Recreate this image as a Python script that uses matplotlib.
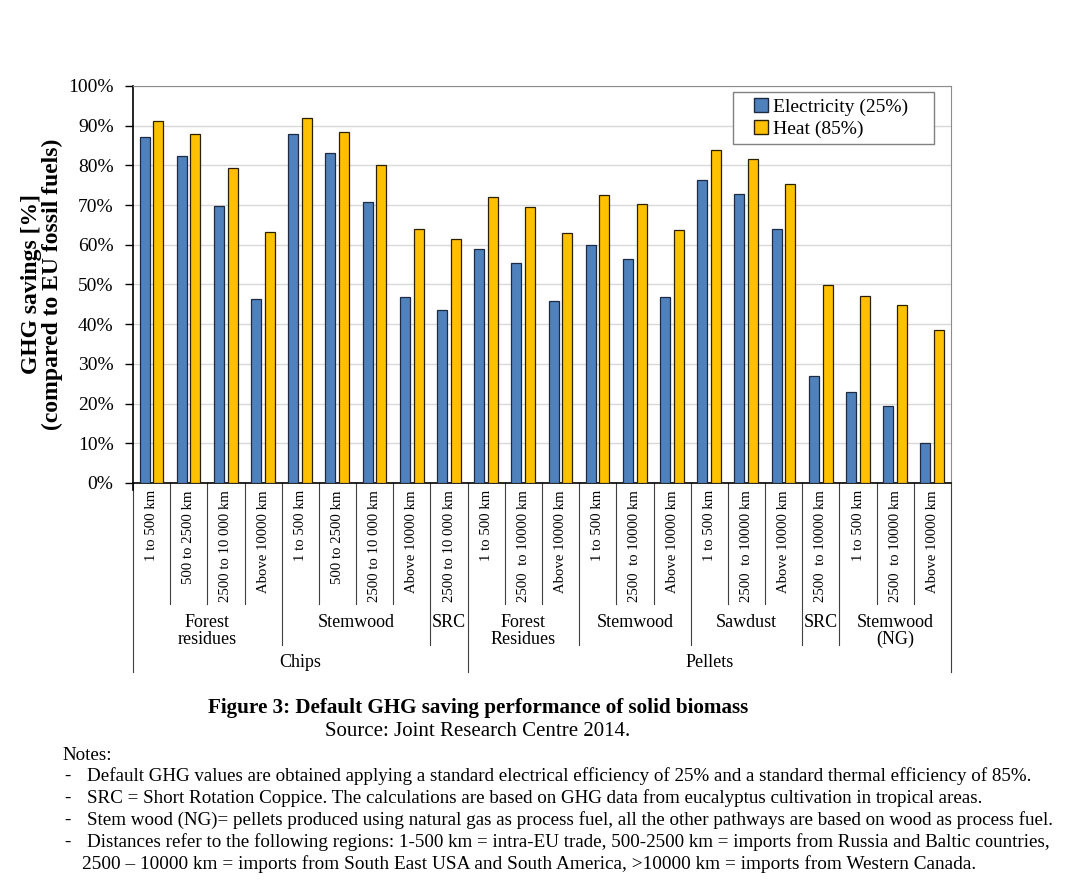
import numpy as np
import matplotlib.pyplot as plt
from matplotlib.patches import Patch, Rectangle
import matplotlib.transforms as mtransforms

plt.rcParams['font.family'] = ['Liberation Serif', 'DejaVu Serif']

# distance labels for the 22 pathways
labels = ["1 to 500 km", "500 to 2500 km", "2500 to 10 000 km", "Above 10000 km",
          "1 to 500 km", "500 to 2500 km", "2500 to 10 000 km", "Above 10000 km",
          "2500 to 10 000 km",
          "1 to 500 km", "2500  to 10000 km", "Above 10000 km",
          "1 to 500 km", "2500  to 10000 km", "Above 10000 km",
          "1 to 500 km", "2500  to 10000 km", "Above 10000 km",
          "2500  to 10000 km",
          "1 to 500 km", "2500  to 10000 km", "Above 10000 km"]

electricity = [87.1, 82.3, 69.8, 46.3, 87.9, 83.1, 70.8, 46.9, 43.5,
               58.9, 55.4, 45.8, 59.9, 56.3, 46.8, 76.3, 72.8, 63.9,
               26.9, 22.8, 19.3, 10.2]
heat = [91.1, 87.9, 79.4, 63.2, 91.9, 88.3, 80.1, 63.9, 61.4,
        72.0, 69.5, 62.9, 72.5, 70.2, 63.7, 83.9, 81.6, 75.3,
        49.9, 47.1, 44.8, 38.6]

# (name, first index, count)
subgroups = [("Forest\nresidues", 0, 4), ("Stemwood", 4, 4), ("SRC", 8, 1),
             ("Forest\nResidues", 9, 3), ("Stemwood", 12, 3), ("Sawdust", 15, 3),
             ("SRC", 18, 1), ("Stemwood\n(NG)", 19, 3)]
groups = [("Chips", 0, 9), ("Pellets", 9, 13)]

fig = plt.figure(figsize=(10.83, 8.84), dpi=100)
ax = fig.add_axes([133 / 1083, 1 - 483 / 884, (951 - 133) / 1083, (483 - 86) / 884])

x = np.arange(len(labels))
w = 0.27
ax.bar(x - 0.19, electricity, w, color='#4F81BD', edgecolor='#1c2a44', linewidth=0.9,
       zorder=3)
ax.bar(x + 0.18, heat, w, color='#FFC000', edgecolor='#2b2100', linewidth=0.9,
       zorder=3)

ax.set_xlim(-0.5, len(labels) - 0.5)
ax.set_ylim(0, 100)
ax.set_yticks(np.arange(0, 101, 10))
ax.set_yticklabels([f"{v}%" for v in range(0, 101, 10)], fontsize=14)
ax.yaxis.grid(True, color='#d9d9d9', linewidth=1, zorder=0)
ax.set_xticks([])
ax.tick_params(axis='y', length=6, width=1, direction='out', pad=8)

for side in ['top', 'right']:
    ax.spines[side].set_color('#8c8c8c')
ax.spines['left'].set_color('black')
ax.spines['bottom'].set_color('black')
ax.spines['left'].set_linewidth(1.2)
ax.spines['bottom'].set_linewidth(1.2)
ax.spines['left'].set_bounds(-1.8, 100)

ax.set_ylabel("GHG savings [%]\n(compared to EU fossil fuels)", fontsize=17,
              fontweight='bold', linespacing=1.0)
ax.yaxis.set_label_coords(-0.085, 0.5)

# category table under the axis
trans = mtransforms.blended_transform_factory(ax.transData, ax.transAxes)
for i, lab in enumerate(labels):
    ax.text(i, -0.018, lab, rotation=90, ha='center', va='top', fontsize=10.6,
            transform=trans)

bounds_sub = set()
for name, start, n in subgroups:
    bounds_sub.add(start - 0.5)
    bounds_sub.add(start + n - 0.5)
    ax.text(start + n / 2 - 0.5, -0.33, name, ha='center', va='top', fontsize=13,
            linespacing=1.0, transform=trans)
bounds_grp = set()
for name, start, n in groups:
    bounds_grp.add(start - 0.5)
    bounds_grp.add(start + n - 0.5)
    ax.text(start + n / 2 - 0.5, -0.452, name, ha='center', va='center', fontsize=13,
            transform=trans)

for b in np.arange(-0.5, len(labels), 1.0):
    if b in bounds_grp:
        y_end = -0.476
    elif b in bounds_sub:
        y_end = -0.408
    else:
        y_end = -0.305
    ax.plot([b, b], [0, y_end], color='#404040', linewidth=0.8, transform=trans,
            clip_on=False)

# legend with its own frame
handles = [Patch(facecolor='#4F81BD', edgecolor='#1c2a44'),
           Patch(facecolor='#FFC000', edgecolor='#2b2100')]
leg = ax.legend(handles, ['Electricity (25%)', 'Heat (85%)'], loc='center left',
                bbox_to_anchor=(754 / 1083, 1 - 118 / 884), bbox_transform=fig.transFigure,
                fontsize=14, frameon=False,
                handlelength=0.7, handleheight=0.7, handletextpad=0.3,
                borderpad=0.0, labelspacing=0.25, borderaxespad=0)
ax.add_patch(Rectangle((733 / 1083, 1 - 144 / 884), 201 / 1083, 52 / 884,
                       transform=fig.transFigure, facecolor='white',
                       edgecolor='#808080', linewidth=1.0, zorder=4, clip_on=False))
leg.set_zorder(5)

# caption and notes
fig.text(478 / 1083, 1 - 708 / 884, "Figure 3: Default GHG saving performance of solid biomass",
         ha='center', va='center', fontsize=15.2, fontweight='bold')
fig.text(478 / 1083, 1 - 732 / 884, "Source: Joint Research Centre 2014.",
         ha='center', va='center', fontsize=15)
fig.text(62 / 1083, 1 - 755 / 884, "Notes:", ha='left', va='center', fontsize=13.7)

notes = ["Default GHG values are obtained applying a standard electrical efficiency of 25% and a standard thermal efficiency of 85%.",
         "SRC = Short Rotation Coppice. The calculations are based on GHG data from eucalyptus cultivation in tropical areas.",
         "Stem wood (NG)= pellets produced using natural gas as process fuel, all the other pathways are based on wood as process fuel.",
         "Distances refer to the following regions: 1-500 km = intra-EU trade, 500-2500 km = imports from Russia and Baltic countries,"]
for k, note in enumerate(notes):
    yy = 1 - (776 + 22 * k) / 884
    fig.text(64 / 1083, yy, "-", ha='left', va='center', fontsize=13.7)
    fig.text(87 / 1083, yy, note, ha='left', va='center', fontsize=13.7)
fig.text(82 / 1083, 1 - 864 / 884,
         "2500 \u2013 10000 km = imports from South East USA and South America, >10000 km = imports from Western Canada.",
         ha='left', va='center', fontsize=13.9)

fig.savefig("out.png", dpi=100)
